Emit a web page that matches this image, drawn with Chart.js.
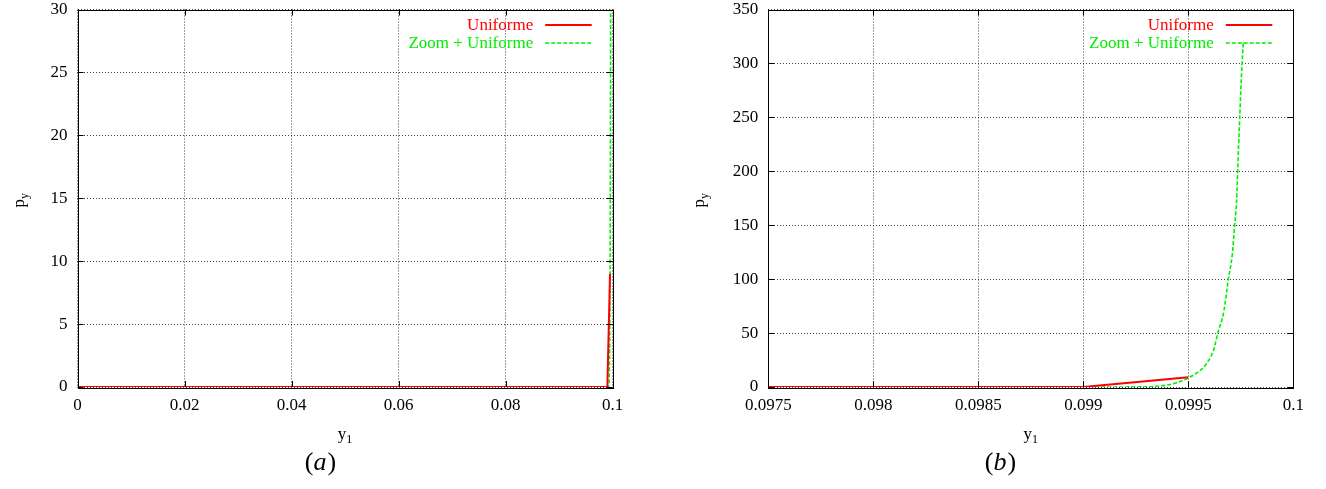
<!DOCTYPE html>
<html><head><meta charset="utf-8">
<script src="https://cdn.jsdelivr.net/npm/chart.js@4/dist/chart.umd.min.js"></script>
<style>
html,body{margin:0;padding:0;background:#fff;width:1326px;height:489px;overflow:hidden}
.box{position:absolute;top:0;width:663px;height:489px}
</style></head><body>
<div class="box" style="left:0"><canvas id="ca"></canvas></div>
<div class="box" style="left:663px"><canvas id="cb"></canvas></div>
<script>
// ---- data ----
const seriesNames = ['Uniforme', 'Zoom + Uniforme'];
const seriesColors = ['#ff0000', '#00ee00'];
const uniformeX = [0, 0.0975, 0.099, 0.0995];
const uniformeY = [0, 0, 0, 9];
const zoomX = [0.0976, 0.0990, 0.0993, 0.09938, 0.09944, 0.0995, 0.09954, 0.09958, 0.09962, 0.09964,
               0.09967, 0.09969, 0.09971, 0.09972, 0.09973, 0.099735, 0.09974, 0.099745, 0.09975, 0.099756, 0.099762];
const zoomY = [0, 0, 0.2, 1.3, 3.7, 8.5, 13, 20, 34, 49.5,
               71, 99, 124, 148, 173, 199, 226, 250, 275, 300, 319];
const ticksAX = [0, 0.02, 0.04, 0.06, 0.08, 0.1];
const ticksAY = [0, 5, 10, 15, 20, 25, 30];
const ticksBX = [0.0975, 0.098, 0.0985, 0.099, 0.0995, 0.1];
const ticksBY = [0, 50, 100, 150, 200, 250, 300, 350];
const panelLabels = ['a', 'b'];
const xTitle = ['y', '1'];
const yTitle = ['p', 'y'];

const FONT = "'Liberation Serif', 'Times New Roman', serif";

function toPoints(xs, ys) { return xs.map((x, i) => ({x: x, y: ys[i]})); }
function fmt(v) { return String(parseFloat(Number(v).toFixed(6))); }

function makePlugin(panel) {
  return {
    id: 'decor' + panel,
    afterDraw(chart) {
      const ctx = chart.ctx;
      const a = chart.chartArea;
      const xs = chart.scales.x, ys = chart.scales.y;
      ctx.save();
      // border box
      ctx.strokeStyle = '#000';
      ctx.lineWidth = 1;
      ctx.setLineDash([]);
      ctx.strokeRect(Math.round(a.left) + 0.5, Math.round(a.top) + 0.5,
                     Math.round(a.right - a.left), Math.round(a.bottom - a.top));
      // inside ticks on all four sides
      ctx.beginPath();
      xs.ticks.forEach(t => {
        const p = Math.round(xs.getPixelForValue(t.value)) + 0.5;
        ctx.moveTo(p, a.bottom); ctx.lineTo(p, a.bottom - 6);
        ctx.moveTo(p, a.top); ctx.lineTo(p, a.top + 6);
      });
      ys.ticks.forEach(t => {
        const p = Math.round(ys.getPixelForValue(t.value)) + 0.5;
        ctx.moveTo(a.left, p); ctx.lineTo(a.left + 6, p);
        ctx.moveTo(a.right, p); ctx.lineTo(a.right - 6, p);
      });
      ctx.stroke();

      // legend (top right, inside)
      ctx.font = '17px ' + FONT;
      ctx.textAlign = 'right';
      ctx.textBaseline = 'middle';
      chart.data.datasets.forEach((ds, i) => {
        const y = a.top + 15 + i * 18;
        ctx.fillStyle = ds.borderColor;
        ctx.fillText(ds.label, a.right - 79.5, y + 1);
        ctx.strokeStyle = ds.borderColor;
        ctx.lineWidth = ds.borderWidth;
        ctx.setLineDash(ds.borderDash || []);
        ctx.beginPath();
        ctx.moveTo(a.right - 67.5, y + 0.5);
        ctx.lineTo(a.right - 21, y + 0.5);
        ctx.stroke();
      });
      ctx.setLineDash([]);

      // x axis title y_1
      ctx.fillStyle = '#000';
      const cx = (a.left + a.right) / 2;
      ctx.font = '17px ' + FONT;
      ctx.textBaseline = 'alphabetic';
      ctx.textAlign = 'left';
      const w1 = ctx.measureText(xTitle[0]).width;
      ctx.font = '12px ' + FONT;
      const w2 = ctx.measureText(xTitle[1]).width;
      let sx = cx - (w1 + w2) / 2;
      ctx.font = '17px ' + FONT;
      ctx.fillText(xTitle[0], sx, 439);
      ctx.font = '12px ' + FONT;
      ctx.fillText(xTitle[1], sx + w1, 443);

      // y axis title p_y (rotated)
      ctx.save();
      const tx = panel === 0 ? 20 : 37;
      ctx.translate(tx, (a.top + a.bottom) / 2 + 2);
      ctx.rotate(-Math.PI / 2);
      ctx.font = '17px ' + FONT;
      const pw = ctx.measureText(yTitle[0]).width;
      ctx.font = '12px ' + FONT;
      const yw = ctx.measureText(yTitle[1]).width;
      const s0 = -(pw + yw) / 2;
      ctx.textBaseline = 'alphabetic';
      ctx.font = '17px ' + FONT;
      ctx.fillText(yTitle[0], s0, 4);
      ctx.font = '12px ' + FONT;
      ctx.fillText(yTitle[1], s0 + pw, 8);
      ctx.restore();

      // panel label (a)/(b)
      const lx = panel === 0 ? 320 : 337;
      ctx.font = '26px ' + FONT;
      const wl = ctx.measureText('(').width;
      ctx.font = 'italic 26px ' + FONT;
      const wm = ctx.measureText(panelLabels[panel]).width;
      let px = lx - (2 * wl + wm) / 2;
      ctx.textBaseline = 'middle';
      ctx.font = '26px ' + FONT;
      ctx.fillText('(', px, 463);
      ctx.font = 'italic 26px ' + FONT;
      ctx.fillText(panelLabels[panel], px + wl, 463);
      ctx.font = '26px ' + FONT;
      ctx.fillText(')', px + wl + wm + 1, 463);
      ctx.restore();
    }
  };
}

function makeChart(id, panel, xMin, xMax, yMin, yMax, tx, ty, yWidth, padRight) {
  return new Chart(document.getElementById(id), {
    type: 'line',
    data: {
      datasets: [
        { label: seriesNames[0], data: toPoints(uniformeX, uniformeY), borderColor: seriesColors[0],
          borderWidth: 2, pointRadius: 0, tension: 0, fill: false },
        { label: seriesNames[1], data: toPoints(zoomX, zoomY), borderColor: seriesColors[1],
          borderWidth: 1.6, borderDash: [4, 2], pointRadius: 0, cubicInterpolationMode: 'monotone', fill: false }
      ]
    },
    options: {
      responsive: true, maintainAspectRatio: false, animation: false,
      layout: { padding: { left: 0, top: 9.5, right: padRight, bottom: 0 } },
      plugins: { legend: { display: false }, tooltip: { enabled: false } },
      scales: {
        x: {
          type: 'linear', min: xMin, max: xMax,
          afterBuildTicks: s => { s.ticks = tx.map(v => ({value: v})); },
          afterFit: s => { s.height = 102; s.paddingLeft = 0; s.paddingRight = 0; },
          ticks: { callback: v => fmt(v), color: '#000', font: { family: FONT, size: 17, lineHeight: 1.12 }, padding: 9, maxRotation: 0, autoSkip: false },
          grid: { color: 'rgba(0,0,0,0.75)', lineWidth: 1, drawTicks: false },
          border: { display: false, dash: [1, 2] }
        },
        y: {
          type: 'linear', min: yMin, max: yMax,
          afterBuildTicks: s => { s.ticks = ty.map(v => ({value: v})); },
          afterFit: s => { s.width = yWidth; s.paddingTop = 0; s.paddingBottom = 0; },
          ticks: { callback: v => fmt(v), color: '#000', font: { family: FONT, size: 17, lineHeight: 1.12 }, padding: 10, autoSkip: false },
          grid: { color: 'rgba(0,0,0,0.75)', lineWidth: 1, drawTicks: false },
          border: { display: false, dash: [1, 2] }
        }
      }
    },
    plugins: [makePlugin(panel)]
  });
}

makeChart('ca', 0, 0, 0.1, 0, 30, ticksAX, ticksAY, 77.5, 50.3);
makeChart('cb', 1, 0.0975, 0.1, 0, 350, ticksBX, ticksBY, 105.3, 32.7);
</script>
</body></html>
